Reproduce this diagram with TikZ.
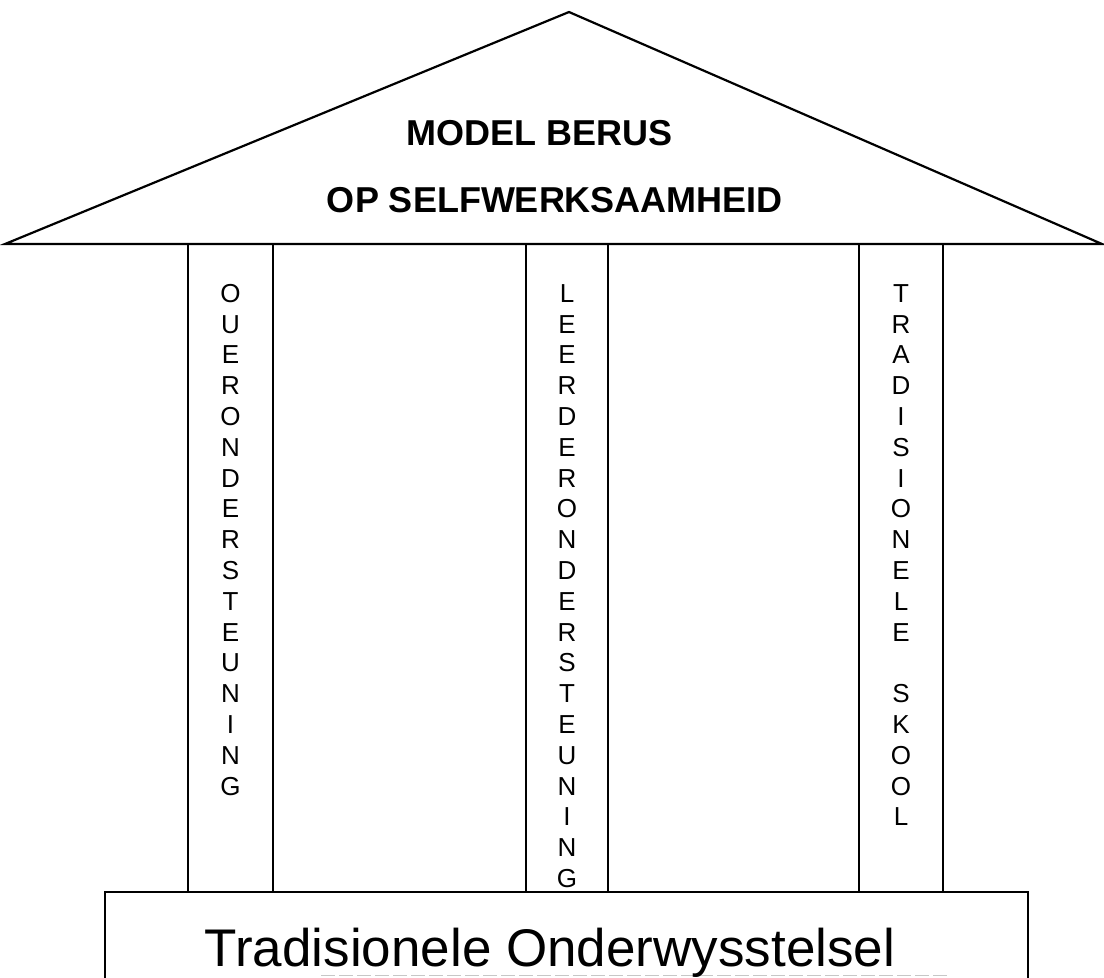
\documentclass[tikz,border=0pt]{standalone}
\usepackage{fontspec}
\setmainfont{Liberation Sans}
\tikzset{
  outline/.style={line width=2.2pt, line join=miter},
  scanline/.style={line width=1pt, black!22, dash pattern=on 14pt off 4pt},
  roofword/.style={anchor=base, inner sep=0pt, font=\fontsize{36}{40}\selectfont\bfseries},
  pillarword/.style={anchor=base, align=center, inner sep=0pt, font=\fontsize{26}{30.8}\selectfont},
  baseword/.style={anchor=base, inner sep=0pt, font=\fontsize{53}{60}\selectfont},
}

\begin{document}
\begin{tikzpicture}[x=1pt,y=-1pt]
	\useasboundingbox (0,0) rectangle (1104,978);
	%%%%% ROOF %%%%%
	\coordinate (eaveL) at (5,244);
	\coordinate (peak) at (569,12);
	\coordinate (eaveR) at (1102,244);
	\draw[outline] (eaveL) -- (peak) -- (eaveR) -- cycle;
	\node[roofword] (modelA) at (540,145) {MODEL BERUS};
	\node[roofword] (modelB) at (555,212) {OP SELFWERKSAAMHEID};
	
	%%%%% PILLARS %%%%%
	% base anchor sits on the last letter of each column
	\foreach \l/\r in {188/273, 526/608, 859/943}
		\draw[outline] (\l,244) rectangle (\r,892);
	\node[pillarword] (ouer) at (230.5,795.1)
		{O\\U\\E\\R\\O\\N\\D\\E\\R\\S\\T\\E\\U\\N\\I\\N\\G};
	\node[pillarword] (leerder) at (567,887.5)
		{L\\E\\E\\R\\D\\E\\R\\O\\N\\D\\E\\R\\S\\T\\E\\U\\N\\I\\N\\G};
	\node[pillarword] (skool) at (901,825.9)
		{T\\R\\A\\D\\I\\S\\I\\O\\N\\E\\L\\E\\\mbox{}\\S\\K\\O\\O\\L};
	
	%%%%% BASE %%%%%
	\draw[outline] (105,978) -- (105,892) -- (1028,892) -- (1028,978);
	\draw[scanline] (321,975) -- (947,975);
	\node[baseword] (stelsel) at (550,966) {Tradisionele Onderwysstelsel};
\end{tikzpicture}
\end{document}
